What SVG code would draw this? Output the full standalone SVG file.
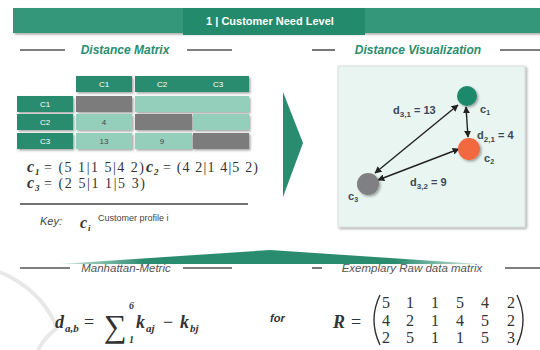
<svg xmlns="http://www.w3.org/2000/svg" width="540" height="350" viewBox="0 0 540 350">
<style>
.hd{font-family:"Liberation Sans",Arial,sans-serif;font-weight:bold;font-style:italic;font-size:12px;fill:#2a8c6e}
.sh{font-family:"Liberation Sans",Arial,sans-serif;font-style:italic;font-size:11.5px;fill:#555}
.rule{stroke:#555;stroke-width:1.6}
.dk{fill:#2a8c6e}
.lt{fill:#94cfbb}
.gy{fill:#7b7b7d}
.ct{font-family:"Liberation Sans",Arial,sans-serif;font-size:8px;fill:#fff;text-anchor:middle}
.cv{font-family:"Liberation Sans",Arial,sans-serif;font-size:8px;fill:#444;text-anchor:middle}
.m{font-family:"Liberation Serif","DejaVu Serif",serif;fill:#333}
.mb{font-family:"Liberation Serif","DejaVu Serif",serif;font-weight:bold;font-style:italic;fill:#333}
.vl{font-family:"Liberation Sans",Arial,sans-serif;font-weight:bold;font-size:11px;fill:#3d4858}
.mx{font-family:"Liberation Serif","DejaVu Serif",serif;font-size:16px;fill:#333;text-anchor:middle}
.arr{stroke:#222;stroke-width:1.4;fill:none;marker-start:url(#ah);marker-end:url(#ah)}
</style>
<defs>
<marker id="ah" viewBox="0 0 10 10" refX="9" refY="5" markerWidth="5" markerHeight="5" orient="auto-start-reverse"><path d="M0,0 L10,5 L0,10 z" fill="#222"/></marker>
<filter id="sd" x="-10%" y="-10%" width="130%" height="130%"><feDropShadow dx="1.5" dy="1.5" stdDeviation="1" flood-color="#000" flood-opacity="0.35"/></filter>
<linearGradient id="tg" x1="0" x2="1" y1="0" y2="0"><stop offset="0" stop-color="#2a8c6e" stop-opacity="0.2"/><stop offset="0.2" stop-color="#2a8c6e"/><stop offset="0.8" stop-color="#2a8c6e"/><stop offset="1" stop-color="#2a8c6e" stop-opacity="0.2"/></linearGradient>
</defs>
<rect width="540" height="350" fill="#fff"/>
<g id="watermark" fill="none" stroke="#e8e8e8" stroke-width="4">
<path d="M0,272 Q42,290 57,328"/>
<path d="M57,328 Q44,338 38,350"/>
</g>
<g id="title">
<rect x="13" y="8" width="527" height="25" fill="#34977a" filter="url(#sd)"/>
<rect x="183" y="8" width="182" height="27" fill="#238a6b"/>
<text x="270" y="25" text-anchor="middle" font-family="'Liberation Sans',Arial,sans-serif" font-weight="bold" font-size="11px" fill="#fff">1 | Customer Need Level</text>
</g>
<g id="headings">
<line class="rule" x1="20" y1="50" x2="65" y2="50"/><line class="rule" x1="187" y1="50" x2="232" y2="50"/>
<text class="hd" x="125" y="54" text-anchor="middle">Distance Matrix</text>
<line class="rule" x1="312" y1="50" x2="335" y2="50"/><line class="rule" x1="500" y1="50" x2="540" y2="50"/>
<text class="hd" x="418" y="54" text-anchor="middle">Distance Visualization</text>
<line class="rule" x1="20" y1="268" x2="70" y2="268"/><line class="rule" x1="183" y1="268" x2="232" y2="268"/>
<text class="sh" x="126" y="272" text-anchor="middle">Manhattan-Metric</text>
<line class="rule" x1="312" y1="268" x2="322" y2="268"/><line class="rule" x1="505" y1="268" x2="540" y2="268"/>
<text class="sh" x="412" y="272" text-anchor="middle">Exemplary Raw data matrix</text>
</g>
<g id="matrix" filter="url(#sd)">
<rect class="dk" x="76" y="76" width="56" height="16"/>
<rect class="dk" x="135" y="76" width="114" height="16"/>
<rect class="dk" x="17" y="96" width="56" height="16"/>
<rect class="dk" x="17" y="114" width="56" height="16"/>
<rect class="dk" x="17" y="133" width="56" height="16"/>
<rect class="gy" x="76" y="96" width="56" height="16"/>
<rect class="lt" x="135" y="96" width="114" height="16"/>
<rect class="lt" x="76" y="114" width="56" height="16"/>
<rect class="gy" x="135" y="114" width="57" height="16"/>
<rect class="lt" x="193" y="114" width="56" height="16"/>
<rect class="lt" x="76" y="133" width="56" height="16"/>
<rect class="lt" x="135" y="133" width="57" height="16"/>
<rect class="gy" x="193" y="133" width="56" height="16"/>
</g>
<g id="matrix-text">
<text class="ct" x="104" y="87">C1</text><text class="ct" x="162" y="87">C2</text><text class="ct" x="218" y="87">C3</text>
<text class="ct" x="45" y="107">C1</text><text class="ct" x="45" y="125">C2</text><text class="ct" x="45" y="144">C3</text>
<text class="cv" x="104" y="125">4</text><text class="cv" x="104" y="144">13</text><text class="cv" x="162" y="144">9</text>
</g>
<g id="profiles">
<text class="mb" x="27" y="172" font-size="16px">c</text><text class="mb" x="35" y="175" font-size="9px">1</text>
<text class="m" x="44" y="172" font-size="14px" textLength="100">= (5 1|1 5|4 2)</text>
<text class="mb" x="146" y="172" font-size="16px">c</text><text class="mb" x="154" y="175" font-size="9px">2</text>
<text class="m" x="163" y="172" font-size="14px" textLength="95">= (4 2|1 4|5 2)</text>
<text class="mb" x="27" y="188" font-size="16px">c</text><text class="mb" x="35" y="191" font-size="9px">3</text>
<text class="m" x="44" y="188" font-size="14px" textLength="101">= (2 5|1 1|5 3)</text>
<line x1="20" y1="204" x2="248" y2="204" stroke="#444" stroke-width="1.6"/>
<text x="40" y="225" font-family="'Liberation Sans',Arial,sans-serif" font-style="italic" font-size="11px" fill="#444">Key:</text>
<text class="mb" x="80" y="228" font-size="16px">c</text><text class="mb" x="88" y="231" font-size="9px">i</text>
<text x="98" y="221" font-family="'Liberation Sans',Arial,sans-serif" font-size="9px" fill="#444">Customer profile i</text>
</g>
<g id="chevron"><polygon points="283,92 303,143 283,197" fill="#2a8c6e"/></g>
<g id="viz-box"><rect x="338" y="66" width="187" height="161" fill="#e9f5f1" stroke="#d0d8d5" stroke-width="0.8" filter="url(#sd)"/></g>
<g id="connectors">
<line class="arr" x1="466" y1="107" x2="468" y2="137"/>
<line class="arr" x1="458" y1="105" x2="375" y2="173"/>
<line class="arr" x1="459" y1="149" x2="378" y2="180"/>
</g>
<g id="c1"><circle cx="467" cy="96" r="10" fill="#1f8a6a" filter="url(#sd)"/><text class="vl" x="480" y="113">c<tspan font-size="7px" dy="2">1</tspan></text></g>
<g id="c2"><circle cx="469" cy="149" r="11" fill="#f2683f" filter="url(#sd)"/><text class="vl" x="484" y="162">c<tspan font-size="7px" dy="2">2</tspan></text></g>
<g id="c3"><circle cx="368" cy="184" r="11" fill="#808083" filter="url(#sd)"/><text class="vl" x="348" y="200">c<tspan font-size="7px" dy="2">3</tspan></text></g>
<g id="edge-labels">
<text class="vl" x="393" y="114">d<tspan font-size="8px" dy="3">3,1</tspan><tspan dy="-3"> = 13</tspan></text>
<text class="vl" x="477" y="139">d<tspan font-size="8px" dy="3">2,1</tspan><tspan dy="-3"> = 4</tspan></text>
<text class="vl" x="410" y="186">d<tspan font-size="8px" dy="3">3,2</tspan><tspan dy="-3"> = 9</tspan></text>
</g>
<g id="wedge"><polygon points="60,264 270,250 480,264" fill="url(#tg)"/></g>
<g id="formula">
<text class="mb" x="55" y="328" font-size="18px">d</text>
<text class="mb" x="65" y="332" font-size="11px">a,b</text>
<text class="m" x="84" y="328" font-size="18px">=</text>
<text class="m" x="104" y="337" font-size="32px">∑</text>
<text class="mb" x="129" y="309" font-size="10px">6</text>
<text class="mb" x="129" y="343" font-size="10px">1</text>
<text class="mb" x="136" y="328" font-size="18px">k</text>
<text class="mb" x="146" y="332" font-size="11px">aj</text>
<text class="m" x="163" y="328" font-size="18px">−</text>
<text class="mb" x="180" y="328" font-size="18px">k</text>
<text class="mb" x="190" y="332" font-size="11px">bj</text>
<text x="270" y="322" font-family="'Liberation Sans',Arial,sans-serif" font-weight="bold" font-style="italic" font-size="11px" fill="#333">for</text>
<text class="mb" x="333" y="328" font-size="18px">R</text>
<text class="m" x="351" y="328" font-size="18px">=</text>
<path d="M380,295 Q368,320 380,345" fill="none" stroke="#333" stroke-width="1.4"/>
<path d="M517,295 Q529,320 517,345" fill="none" stroke="#333" stroke-width="1.4"/>
<g class="mx">
<text x="386" y="308">5</text><text x="410" y="308">1</text><text x="435" y="308">1</text><text x="460" y="308">5</text><text x="485" y="308">4</text><text x="511" y="308">2</text>
<text x="386" y="326">4</text><text x="410" y="326">2</text><text x="435" y="326">1</text><text x="460" y="326">4</text><text x="485" y="326">5</text><text x="511" y="326">2</text>
<text x="386" y="343">2</text><text x="410" y="343">5</text><text x="435" y="343">1</text><text x="460" y="343">1</text><text x="485" y="343">5</text><text x="511" y="343">3</text>
</g>
</g>
</svg>
